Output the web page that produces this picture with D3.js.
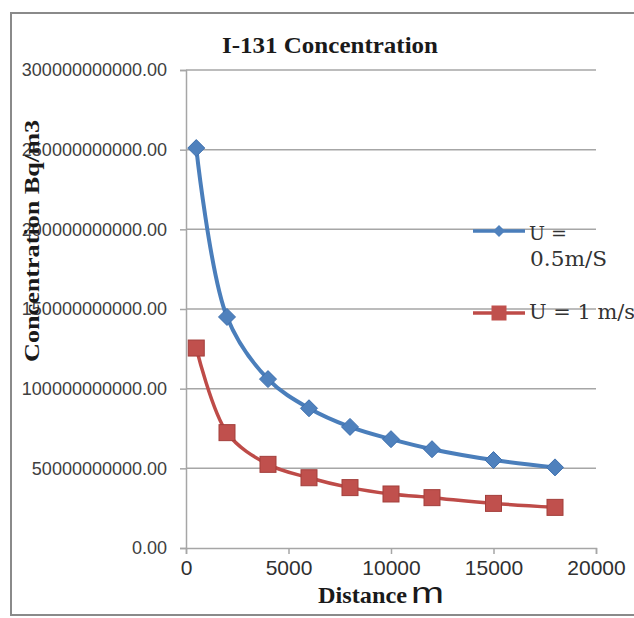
<!DOCTYPE html>
<html>
<head>
<meta charset="utf-8">
<script src="https://cdn.jsdelivr.net/npm/d3@7"></script>
<style>
  html, body { margin: 0; padding: 0; background: #fff; }
  svg { display: block; }
</style>
</head>
<body>
<svg id="chart" width="634" height="618"></svg>
<script>
// ---- data ----
const distance = [500, 2000, 4000, 6000, 8000, 10000, 12000, 15000, 18000];
const concU05 = [251e9, 145e9, 106e9, 87.7e9, 76e9, 68.3e9, 62e9, 55.2e9, 50.6e9];
const concU1  = [125.5e9, 72.4e9, 52.5e9, 44.1e9, 37.9e9, 33.9e9, 31.6e9, 28e9, 25.5e9];
const seriesNames = ["U =", "0.5m/S", "U = 1 m/s"];
const xTicks = [0, 5000, 10000, 15000, 20000];
const yTicks = [0, 50e9, 100e9, 150e9, 200e9, 250e9, 300e9];
const titleText = "I-131 Concentration";
const yLabelText = "Concentration Bq/m3";
const xLabelText = "Distance";
const xLabelUnit = "m";

const svg = d3.select("#chart");
const plot = { left: 186, right: 596, top: 70, bottom: 548 };

const x = d3.scaleLinear().domain([0, 20000]).range([plot.left, plot.right]);
const y = d3.scaleLinear().domain([0, 300e9]).range([plot.bottom, plot.top]);

// outer frame
svg.append("rect").attr("x", 11).attr("y", 13).attr("width", 700).attr("height", 602)
  .attr("fill", "#fff").attr("stroke", "#8a8a8a").attr("stroke-width", 2);

// gridlines
svg.append("g").selectAll("line").data(yTicks.slice(1)).join("line")
  .attr("x1", plot.left).attr("x2", plot.right)
  .attr("y1", d => y(d)).attr("y2", d => y(d))
  .attr("stroke", "#a6a6a6").attr("stroke-width", 1.5);

// y axis
const yAxis = svg.append("g").attr("transform", `translate(${plot.left},0)`)
  .call(d3.axisLeft(y).tickValues(yTicks).tickFormat(d3.format(".2f")).tickSize(6).tickPadding(13));
yAxis.select(".domain").attr("stroke", "#a6a6a6").attr("stroke-width", 1.5);
yAxis.selectAll(".tick line").attr("stroke", "#a6a6a6").attr("stroke-width", 1.5);
yAxis.selectAll("text").attr("font-family", "'Liberation Sans', Arial, sans-serif")
  .attr("font-size", 18).attr("fill", "#404040");

// x axis
const xAxis = svg.append("g").attr("transform", `translate(0,${plot.bottom})`)
  .call(d3.axisBottom(x).tickValues(xTicks).tickFormat(d3.format("d")).tickSize(6).tickPadding(6));
xAxis.select(".domain").attr("stroke", "#a6a6a6").attr("stroke-width", 1.5);
xAxis.selectAll(".tick line").attr("stroke", "#a6a6a6").attr("stroke-width", 1.5);
xAxis.selectAll("text").attr("font-family", "'Liberation Sans', Arial, sans-serif")
  .attr("font-size", 21).attr("fill", "#303030");

// series
const line = d3.line().x(d => x(d[0])).y(d => y(d[1])).curve(d3.curveCatmullRom.alpha(0.5));
const dBlue = distance.map((d, i) => [d, concU05[i]]);
const dRed = distance.map((d, i) => [d, concU1[i]]);

svg.append("path").datum(dBlue).attr("d", line).attr("fill", "none")
  .attr("stroke", "#4a7ebb").attr("stroke-width", 4);
svg.append("path").datum(dRed).attr("d", line).attr("fill", "none")
  .attr("stroke", "#be4b48").attr("stroke-width", 3.5);

const diamond = (s) => `M0,${-s}L${s},0L0,${s}L${-s},0Z`;
svg.append("g").selectAll("path").data(dBlue).join("path")
  .attr("transform", d => `translate(${x(d[0])},${y(d[1])})`)
  .attr("d", diamond(8.5)).attr("fill", "#4f81bd").attr("stroke", "#3d6fae").attr("stroke-width", 1);
svg.append("g").selectAll("rect").data(dRed).join("rect")
  .attr("x", d => x(d[0]) - 8).attr("y", d => y(d[1]) - 8)
  .attr("width", 16).attr("height", 16)
  .attr("fill", "#c0504d").attr("stroke", "#a33e3b").attr("stroke-width", 1);

// legend
const lg = svg.append("g");
lg.append("line").attr("x1", 473).attr("x2", 525).attr("y1", 231).attr("y2", 231)
  .attr("stroke", "#4a7ebb").attr("stroke-width", 3.5);
lg.append("path").attr("transform", "translate(499,231)").attr("d", diamond(6))
  .attr("fill", "#4f81bd");
lg.append("line").attr("x1", 473).attr("x2", 525).attr("y1", 313).attr("y2", 313)
  .attr("stroke", "#be4b48").attr("stroke-width", 3.5);
lg.append("rect").attr("x", 491.5).attr("y", 305.5).attr("width", 15).attr("height", 15)
  .attr("fill", "#c0504d");
const lgFont = "'DejaVu Serif', 'Liberation Serif', serif";
lg.append("text").attr("x", 529).attr("y", 240).text(seriesNames[0])
  .attr("font-family", lgFont).attr("font-size", 19).attr("fill", "#333");
lg.append("text").attr("x", 530).attr("y", 266).text(seriesNames[1])
  .attr("font-family", lgFont).attr("font-size", 20).attr("fill", "#333")
  .attr("textLength", 77).attr("lengthAdjust", "spacingAndGlyphs");
lg.append("text").attr("x", 529).attr("y", 319).text(seriesNames[2])
  .attr("font-family", lgFont).attr("font-size", 20).attr("fill", "#333")
  .attr("textLength", 106).attr("lengthAdjust", "spacingAndGlyphs");

// title
svg.append("text").attr("x", 222).attr("y", 53).text(titleText)
  .attr("font-family", "'Liberation Serif', 'Times New Roman', serif").attr("font-weight", "bold")
  .attr("font-size", 23).attr("fill", "#1a1a1a")
  .attr("textLength", 216).attr("lengthAdjust", "spacingAndGlyphs");

// y axis label
svg.append("text").attr("transform", "translate(39,241) rotate(-90)")
  .attr("text-anchor", "middle").text(yLabelText)
  .attr("font-family", "'Liberation Serif', 'Times New Roman', serif").attr("font-weight", "bold")
  .attr("font-size", 22).attr("fill", "#1a1a1a")
  .attr("textLength", 242).attr("lengthAdjust", "spacingAndGlyphs");

// x axis label
svg.append("text").attr("x", 318).attr("y", 603).text(xLabelText)
  .attr("font-family", "'Liberation Serif', 'Times New Roman', serif").attr("font-weight", "bold")
  .attr("font-size", 24).attr("fill", "#1a1a1a")
  .attr("textLength", 89).attr("lengthAdjust", "spacingAndGlyphs");
svg.append("text").attr("x", 411).attr("y", 603).text(xLabelUnit)
  .attr("font-family", "'Liberation Sans', Arial, sans-serif")
  .attr("font-size", 29).attr("fill", "#1a1a1a")
  .attr("textLength", 33).attr("lengthAdjust", "spacingAndGlyphs");
</script>
</body>
</html>
